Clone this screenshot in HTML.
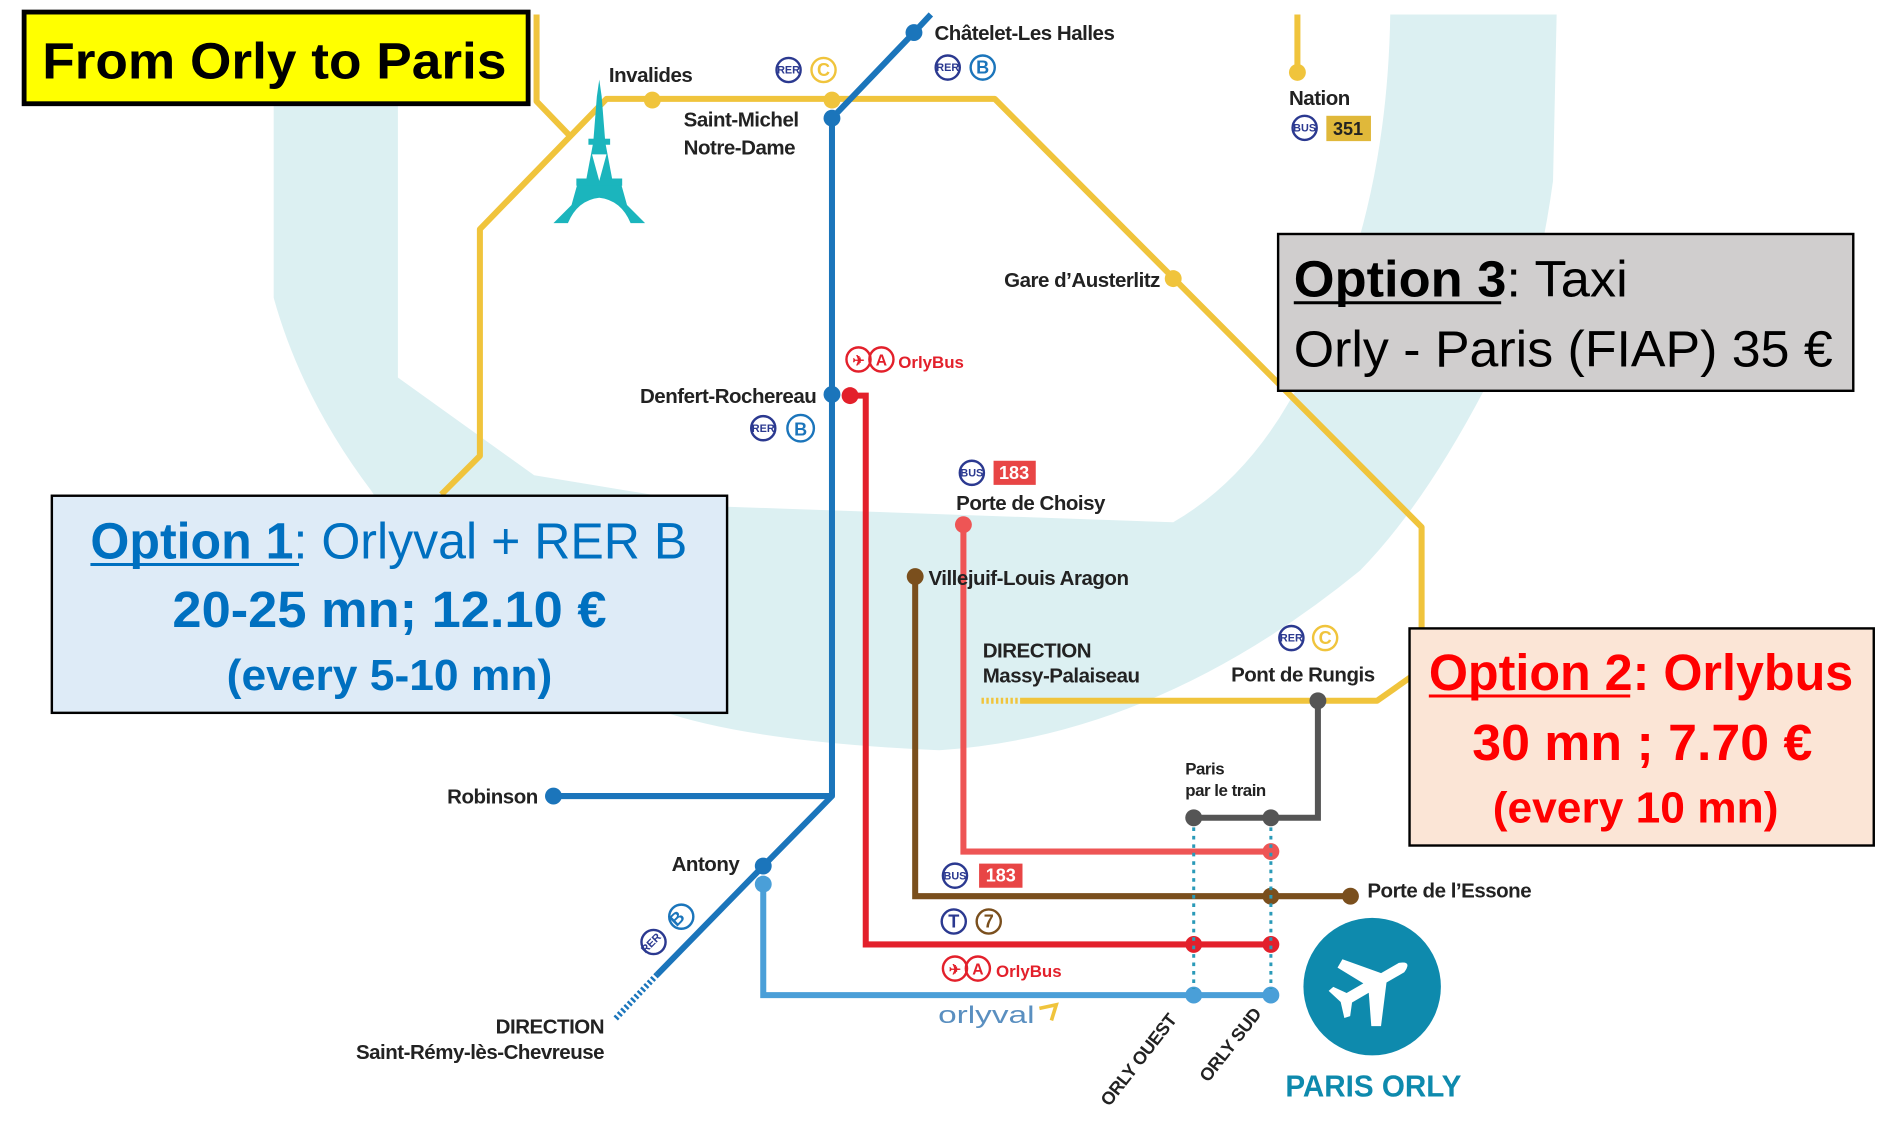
<!DOCTYPE html>
<html><head><meta charset="utf-8"><style>
html,body{margin:0;padding:0;background:#fff;}
svg{display:block;}
.l{font-family:"Liberation Sans Narrow","Liberation Sans",sans-serif;font-weight:bold;fill:#222;font-size:17px;letter-spacing:-0.4px;}
.b{font-family:"Liberation Sans Narrow","Liberation Sans",sans-serif;font-weight:bold;}
.c{font-family:"Liberation Sans Narrow","Liberation Sans",sans-serif;}
</style></head><body>
<svg width="1881" height="1135" viewBox="0 0 1560 941" preserveAspectRatio="none" xmlns="http://www.w3.org/2000/svg">
<rect width="1560" height="941" fill="#fff"/>
<path d="M227,12 L330,12 L330,313 L443,394 L600,420 L973,433 Q1030,400 1068,335 Q1150,200 1153,12 L1291,12 L1288,150 Q1270,280 1231,323 Q1180,420 1128,473 Q960,610 779,622 Q620,615 547,589 Q380,520 308,407 Q250,330 227,247 Z" fill="#dcf0f2"/>

<g fill="none" stroke="#f0c43c" stroke-width="5" stroke-linejoin="round">
<path d="M445,12 L445,84 L472,112"/>
<path d="M366,410 L398,378 L398,190 L503,82 L825,82 L1179,437 L1179,555 L1142,581 L846,581"/>
<path d="M1076,12 L1076,60"/>
</g>
<path d="M844,581 L812,581" stroke="#f0c43c" stroke-width="5" stroke-dasharray="2,2"/>
<g fill="#f0c43c"><circle cx="541" cy="83" r="7"/><circle cx="690" cy="83" r="7"/><circle cx="973" cy="231" r="7"/><circle cx="1076" cy="60" r="7"/></g>

<g fill="none" stroke="#1b75bb" stroke-width="5" stroke-linejoin="round">
<path d="M772,12 L758,27 L690,98 L690,660 L633,718 L545,808"/>
<path d="M459,660 L690,660"/>
</g>
<path d="M545,808 L510,845" stroke="#1b75bb" stroke-width="5" stroke-dasharray="2,2"/>
<g fill="#1b75bb"><circle cx="758" cy="27" r="7"/><circle cx="690" cy="98" r="7"/><circle cx="690" cy="327" r="7"/><circle cx="633" cy="718" r="7"/><circle cx="459" cy="660" r="7"/></g>

<path d="M633,733 L633,825 L1054,825" fill="none" stroke="#4a9fd8" stroke-width="5"/>
<g fill="#4a9fd8"><circle cx="633" cy="733" r="7"/><circle cx="990" cy="825" r="7"/><circle cx="1054" cy="825" r="7"/></g>
<path d="M705,328 L718,328 L718,783 L1054,783" fill="none" stroke="#e3202b" stroke-width="5"/>
<g fill="#e3202b"><circle cx="705" cy="328" r="7"/><circle cx="990" cy="783" r="7"/><circle cx="1054" cy="783" r="7"/></g>
<path d="M799,435 L799,706 L1054,706" fill="none" stroke="#ee5555" stroke-width="5"/>
<g fill="#ee5555"><circle cx="799" cy="435" r="7"/><circle cx="1054" cy="706" r="7"/></g>
<path d="M759,478 L759,743 L1120,743" fill="none" stroke="#7a4f1d" stroke-width="5"/>
<g fill="#7a4f1d"><circle cx="759" cy="478" r="7"/><circle cx="1054" cy="743" r="7"/><circle cx="1120" cy="743" r="7"/></g>
<path d="M1093,581 L1093,678 L990,678" fill="none" stroke="#555" stroke-width="5"/>
<g fill="#555"><circle cx="1093" cy="581" r="7"/><circle cx="990" cy="678" r="7"/><circle cx="1054" cy="678" r="7"/></g>
<g stroke="#2a9ab8" stroke-width="2.5" stroke-dasharray="3,4"><path d="M990,686 L990,820"/><path d="M1054,686 L1054,820"/></g>

<g fill="#1bb5bd">
<path d="M497,66 L499,80 L502,118 L508,150 L515,152 L520,170 L535,185 L523,185 Q515,166 497,164 Q479,166 471,185 L459,185 L474,170 L479,152 L486,150 L492,118 L495,80 Z"/>
<rect x="488" y="115" width="18" height="5"/>
<rect x="478" y="148" width="38" height="6"/>
</g>
<path d="M497,150 L491,128 L503,128 Z" fill="#fff"/>

<text class="l" x="505" y="68">Invalides</text>
<text class="l" x="775" y="33">Châtelet-Les Halles</text>
<text class="l" x="567" y="105">Saint-Michel</text>
<text class="l" x="567" y="128">Notre-Dame</text>
<text class="l" x="1069" y="87">Nation</text>
<text class="l" x="962" y="238" text-anchor="end">Gare d’Austerlitz</text>
<text class="l" x="677" y="334" text-anchor="end">Denfert-Rochereau</text>
<text class="l" x="793" y="423">Porte de Choisy</text>
<text class="l" x="770" y="485">Villejuif-Louis Aragon</text>
<text class="l" x="815" y="545">DIRECTION</text>
<text class="l" x="815" y="566">Massy-Palaiseau</text>
<text class="l" x="1021" y="565">Pont de Rungis</text>
<text class="l" x="983" y="642" style="font-size:14px">Paris</text>
<text class="l" x="983" y="660" style="font-size:14px">par le train</text>
<text class="l" x="446" y="666" text-anchor="end">Robinson</text>
<text class="l" x="557" y="722">Antony</text>
<text class="l" x="501" y="857" text-anchor="end">DIRECTION</text>
<text class="l" x="501" y="878" text-anchor="end">Saint-Rémy-lès-Chevreuse</text>
<text class="l" x="1134" y="744">Porte de l’Essone</text>
<text class="l" transform="translate(920,918) rotate(-52)" style="font-size:15px">ORLY OUEST</text>
<text class="l" transform="translate(1002,898) rotate(-52)" style="font-size:15px">ORLY SUD</text>

<g fill="none" stroke-width="2">
<circle cx="654" cy="58" r="10" stroke="#2b3990"/><circle cx="683" cy="58" r="10" stroke="#f0c43c"/>
<circle cx="786" cy="56" r="10" stroke="#2b3990"/><circle cx="815" cy="56" r="10" stroke="#1b75bb"/>
<circle cx="1082" cy="106" r="10" stroke="#2b3990"/>
<circle cx="633" cy="355" r="10" stroke="#2b3990"/><circle cx="664" cy="355" r="11" stroke="#1b75bb"/>
<circle cx="806" cy="392" r="10" stroke="#2b3990"/>
<circle cx="1071" cy="529" r="10" stroke="#2b3990"/><circle cx="1099" cy="529" r="10" stroke="#f0c43c"/>
<circle cx="792" cy="726" r="10" stroke="#2b3990"/>
<circle cx="791" cy="764" r="10" stroke="#2b3990"/><circle cx="820" cy="764" r="10" stroke="#7a4f1d"/>
<circle cx="542" cy="781" r="10" stroke="#2b3990"/><circle cx="565" cy="760" r="10" stroke="#1b75bb"/>
<circle cx="712" cy="298" r="10" stroke="#e3202b"/><circle cx="731" cy="298" r="10" stroke="#e3202b"/>
<circle cx="792" cy="803" r="10" stroke="#e3202b"/><circle cx="811" cy="803" r="10" stroke="#e3202b"/>
</g>
<g class="b" font-size="9" fill="#2b3990" text-anchor="middle">
<text x="654" y="61">RER</text><text x="786" y="59">RER</text><text x="1082" y="109">BUS</text><text x="633" y="358">RER</text><text x="806" y="395">BUS</text><text x="1071" y="532">RER</text><text x="792" y="729">BUS</text>
<text transform="translate(542,784) rotate(-45)">RER</text>
</g>
<g class="b" font-size="15" text-anchor="middle">
<text x="683" y="63" fill="#f0c43c">C</text><text x="815" y="61" fill="#1b75bb">B</text><text x="664" y="361" fill="#1b75bb">B</text><text x="1099" y="534" fill="#f0c43c">C</text>
<text x="791" y="769" fill="#2b3990">T</text><text x="820" y="769" fill="#7a4f1d">7</text>
<text transform="translate(565,765) rotate(-45)" fill="#1b75bb">B</text>
<text x="712" y="303" fill="#e3202b" font-size="12">✈</text><text x="731" y="303" fill="#e3202b" font-size="13">A</text>
<text x="792" y="808" fill="#e3202b" font-size="12">✈</text><text x="811" y="808" fill="#e3202b" font-size="13">A</text>
</g>
<rect x="1100" y="96" width="37" height="21" fill="#e0b83a"/><text class="b" x="1118" y="112" font-size="15" fill="#222" text-anchor="middle">351</text>
<rect x="824" y="382" width="35" height="20" fill="#e84545"/><text class="b" x="841" y="397" font-size="15" fill="#fff" text-anchor="middle">183</text>
<rect x="812" y="716" width="36" height="20" fill="#e84545"/><text class="b" x="830" y="731" font-size="15" fill="#fff" text-anchor="middle">183</text>
<text class="b" x="745" y="305" font-size="14" fill="#e3202b">OrlyBus</text>
<text class="b" x="826" y="810" font-size="14" fill="#e3202b">OrlyBus</text>
<text class="c" x="778" y="848" font-size="20" fill="#5a8fc0" textLength="80" lengthAdjust="spacingAndGlyphs">orlyval</text>
<path d="M862,836 L876,833 L872,846" fill="none" stroke="#f0c43c" stroke-width="3"/>

<circle cx="1138" cy="818" r="57" fill="#0e8aad"/>
<path d="M1121,790 L1128,786 L1150,812 L1167,812 Q1178,816 1167,821 L1150,821 L1128,850 L1121,846 L1133,821 L1117,821 L1110,830 L1105,829 L1109,816 L1105,803 L1110,802 L1117,812 L1133,812 Z" fill="#fff" transform="rotate(-30 1138 818)"/>
<text class="b" x="1066" y="909" font-size="25" fill="#0e8aad" textLength="146" lengthAdjust="spacingAndGlyphs">PARIS ORLY</text>

<rect x="20" y="10" width="418" height="76" fill="#ffff00" stroke="#000" stroke-width="4"/>
<text class="b" x="35" y="65" font-size="42" fill="#000" textLength="385" lengthAdjust="spacingAndGlyphs">From Orly to Paris</text>

<rect x="1060" y="194" width="477" height="130" fill="#d0cece" stroke="#000" stroke-width="2"/>
<text class="c" x="1073" y="246" font-size="42" fill="#000" textLength="277" lengthAdjust="spacingAndGlyphs"><tspan font-weight="bold">Option 3</tspan>: Taxi</text>
<line x1="1073" y1="251" x2="1245" y2="251" stroke="#000" stroke-width="2.5"/>
<text class="c" x="1073" y="304" font-size="42" fill="#000" textLength="447" lengthAdjust="spacingAndGlyphs">Orly - Paris (FIAP) 35 €</text>

<rect x="43" y="411" width="560" height="180" fill="#deebf7" stroke="#000" stroke-width="2"/>
<text class="c" x="75" y="463" font-size="42" fill="#0070c0" textLength="495" lengthAdjust="spacingAndGlyphs"><tspan font-weight="bold">Option 1</tspan>: Orlyval + RER B</text>
<line x1="75" y1="468" x2="248" y2="468" stroke="#0070c0" stroke-width="2.5"/>
<text class="b" x="143" y="520" font-size="42" fill="#0070c0" textLength="360" lengthAdjust="spacingAndGlyphs">20-25 mn; 12.10 €</text>
<text class="b" x="188" y="572" font-size="36" fill="#0070c0" textLength="270" lengthAdjust="spacingAndGlyphs">(every 5-10 mn)</text>

<rect x="1169" y="521" width="385" height="180" fill="#fbe5d6" stroke="#000" stroke-width="2"/>
<text class="b" x="1185" y="572" font-size="42" fill="#ff0000" textLength="352" lengthAdjust="spacingAndGlyphs">Option 2: Orlybus</text>
<line x1="1185" y1="577" x2="1352" y2="577" stroke="#ff0000" stroke-width="2.5"/>
<text class="b" x="1221" y="630" font-size="42" fill="#ff0000" textLength="282" lengthAdjust="spacingAndGlyphs">30 mn ; 7.70 €</text>
<text class="b" x="1238" y="682" font-size="36" fill="#ff0000" textLength="237" lengthAdjust="spacingAndGlyphs">(every 10 mn)</text>
</svg>
</body></html>
